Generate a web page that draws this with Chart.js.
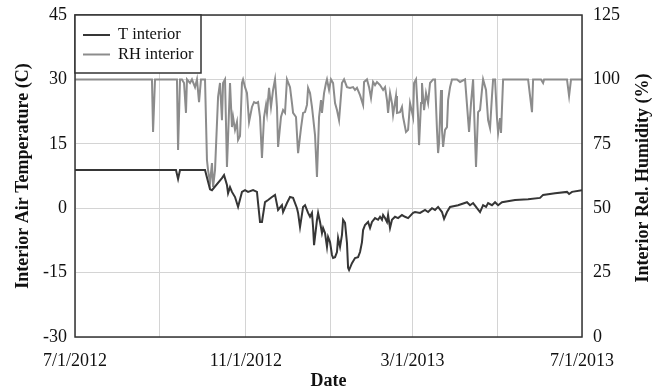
<!DOCTYPE html>
<html>
<head>
<meta charset="utf-8">
<script src="https://cdn.jsdelivr.net/npm/chart.js@4.4.1/dist/chart.umd.min.js"></script>
<style>
  html, body { margin: 0; padding: 0; background: #fff; }
  #wrap { width: 662px; height: 392px; position: relative; }
</style>
</head>
<body>
<div id="wrap"><canvas id="interiorChart"></canvas></div>
<script>
// days counted from 7/1/2012
const xTickDays = [0, 61, 123, 184, 243, 304, 365];
const xTickLabels = ['7/1/2012', '', '11/1/2012', '', '3/1/2013', '', '7/1/2013'];
const tempTicks = [-30, -15, 0, 15, 30, 45];
const rhTicks = [0, 25, 50, 75, 100, 125];

const tDays = [
    0, 72.7, 74.2, 75.6, 93.6, 97.2, 98.6, 105.8, 107.3, 109.4, 110.2, 111.6, 113, 115.2, 117.4,
    120.2, 122.4, 124.6, 128.2, 131, 131.8, 133.2, 134.6, 136.8, 139, 141.8, 144, 146.2, 149, 149.8,
    152.6, 154.8, 157, 159.8, 160.6, 162, 164.2, 165.6, 167.8, 169.2, 170.6, 171.4, 172.1, 174.2, 175,
    176.4, 177.8, 178.6, 180, 181.4, 182.2, 183.6, 185, 185.8, 187.2, 188.6, 189.4, 190.8, 192.2, 193,
    194.4, 195.8, 196.6, 197.3, 199.4, 201.6, 203.8, 205.2, 206.6, 207.4, 208.8, 211, 212.4, 213.8, 216,
    218.2, 219.6, 221, 221.8, 223.2, 224.6, 225.4, 226.8, 228.2, 230.4, 232.6, 235.4, 237.6, 239.8, 243.4,
    244.8, 248.4, 252, 254.2, 257, 259.2, 261.4, 264.2, 265.7, 267.8, 270, 275.8, 282.2, 284.4, 286.6,
    289.4, 291.6, 293.8, 295.9, 297.4, 300.2, 302.4, 304.6, 307.4, 316.8, 326.2, 334.8, 337, 345.6, 354.2,
    355.7, 357.8, 365
];
const tValues = [
    8.9, 8.9, 6.8, 8.9, 8.9, 4.4, 4.2, 7.0, 7.7, 5.4, 3.5, 4.9, 3.8, 2.6, 0.3,
    3.8, 4.2, 3.8, 4.2, 3.8, 1.2, -3.2, -3.2, 1.4, 1.9, 2.6, 3.1, -0.4, 0.7, -0.9,
    1.2, 2.6, 2.4, 0.0, -1.1, -4.4, 0.3, 0.7, -1.1, -2.0, -1.1, -4.4, -8.6, -2.7, -1.1,
    -3.2, -5.8, -4.6, -5.8, -9.0, -6.7, -7.9, -10.9, -11.6, -11.4, -10.2, -6.9, -9.0, -6.2, -2.7,
    -3.4, -8.1, -13.9, -14.4, -12.8, -11.6, -11.4, -10.2, -7.9, -5.1, -3.9, -3.2, -4.6, -3.2, -2.3,
    -2.7, -2.0, -2.7, -1.6, -2.3, -3.2, -1.6, -4.6, -2.7, -2.0, -2.3, -1.6, -2.0, -2.3, -1.1,
    -0.9, -1.1, -0.4, -0.9, 0.0, -0.4, 0.3, -0.9, -2.5, -0.9, 0.3, 0.7, 1.4, 0.7, 1.2,
    0.0, -0.9, 0.7, 0.3, 1.2, 0.7, 1.4, 0.7, 1.4, 1.9, 2.1, 2.4, 3.1, 3.5, 3.8,
    3.3, 3.8, 4.2
];

const rhDays = [
    0, 55.4, 56.2, 57.6, 73.4, 74.2, 75.6, 77, 78.5, 79.9, 80.6, 82.8, 84.2, 86.4, 87.8,
    89.3, 90.7, 93.6, 95, 95.8, 97.2, 98.6, 99.4, 100.8, 103, 104.4, 105.8, 106.6, 108, 109.4,
    110.2, 111.6, 113, 113.8, 115.2, 116.6, 117.4, 118.8, 120.2, 121, 122.4, 123.8, 125.3, 127.4, 128.9,
    130.3, 131.8, 133.2, 134.6, 136.1, 137.5, 138.2, 139.7, 141.1, 142.6, 144, 145.4, 146.2, 148.3, 149.8,
    151.2, 152.6, 154.8, 156.2, 157, 159.1, 160.6, 162.7, 164.2, 165.6, 167, 167.8, 169.2, 170.6, 171.4,
    172.8, 174.2, 175.7, 177.1, 177.8, 179.3, 180.7, 181.4, 182.9, 184.3, 185.8, 187.2, 188.6, 190.1, 192.2,
    193.7, 195.8, 198, 200.2, 201.6, 203, 205.2, 207.4, 208.1, 210.2, 211.7, 213.1, 214.6, 216, 217.4,
    219.6, 221.8, 223.2, 224.6, 225.4, 226.8, 228.2, 229, 231.1, 231.8, 234, 235.4, 236.2, 238.3, 239.8,
    241.2, 243.4, 244.1, 245.5, 247, 247.7, 249.1, 249.8, 251.3, 252.7, 254.2, 255.6, 257.8, 259.2, 260.6,
    261.4, 262.1, 263.5, 264.2, 265, 266.4, 267.8, 268.6, 270, 271.4, 275, 277.2, 280.8, 283.7, 285.1,
    286.6, 287.3, 288.7, 290.2, 291.6, 293, 293.8, 295.9, 297.4, 298.8, 300.2, 301, 302.4, 303.8, 304.6,
    306, 306.7, 308.2, 326.2, 327.6, 329, 329.8, 335.5, 337, 337.7, 354.2, 355.7, 357.1, 365
];
const rhValues = [
    100, 100, 79.6, 100, 100, 72.6, 100, 100, 98.6, 87, 100, 98.6, 100, 97, 100,
    91.2, 100, 100, 68.7, 64.8, 59.8, 67.5, 58.2, 64.8, 93.2, 98.6, 84.2, 98.6, 100, 66,
    77.6, 98.6, 81.5, 85.4, 80.4, 83.5, 76.5, 78, 98.6, 100, 97, 94.7, 83.5, 89.3, 91.2,
    90.8, 91.2, 85.4, 69.5, 85.4, 90.1, 87, 96.7, 89.3, 95.9, 100, 89.3, 73.8, 85.4, 88.1,
    87, 100, 97, 90.8, 87, 85.4, 71.4, 81.1, 87, 87.3, 90.1, 96.7, 94.7, 89.3, 85.4,
    78.4, 62.1, 85.4, 92, 87, 94.7, 98.6, 100, 95.9, 100, 98.6, 90.8, 88.1, 84.2, 98.6,
    100, 97, 96.7, 97, 95.9, 96.7, 93.9, 90.1, 99, 100, 97, 92.8, 99, 97.8, 99,
    97.8, 95.9, 97, 92, 87, 94.7, 90.8, 86.2, 93.6, 87, 87.3, 89.3, 85.4, 79.6, 80.4,
    90.8, 85.4, 98.6, 100, 85.4, 74.5, 90.8, 98.6, 88.1, 94.7, 90.8, 98.6, 100, 100, 80.4,
    71.4, 75.3, 95.9, 80.4, 73.8, 80.4, 81.5, 92, 97, 100, 100, 99, 100, 79.6, 90.8,
    100, 88.1, 66, 87.3, 88.1, 95.9, 100, 95.9, 84.2, 81.1, 93.6, 100, 100, 85, 79.2,
    85, 79.2, 100, 100, 93.6, 87.3, 100, 100, 98.6, 100, 100, 93.6, 100, 100
];

const serif = "'Liberation Serif', 'Times New Roman', serif";
const darkLine = '#363636';
const greyLine = '#8c8c8c';
const gridColor = '#d4d4d4';

function toPoints(xs, ys) {
    return xs.map((x, i) => ({ x: x, y: ys[i] }));
}

// fixed axis widths, and no extra label padding above/below the plot
function fixVertical(width) {
    return scale => {
        scale.width = width;
        scale.paddingTop = 0;
        scale.paddingBottom = 0;
    };
}

// frame round the plot, legend box, right-hand title reading upwards
const framePlugin = {
    id: 'framePlugin',
    afterDraw(chart) {
        const ctx = chart.ctx;
        const area = chart.chartArea;
        ctx.save();
        ctx.strokeStyle = '#333';
        ctx.lineWidth = 1.5;
        ctx.strokeRect(area.left, area.top, area.right - area.left, area.bottom - area.top);

        // legend
        const lx = area.left, ly = area.top, lw = 126, lh = 58;
        ctx.fillStyle = '#fff';
        ctx.fillRect(lx, ly, lw, lh);
        ctx.strokeRect(lx, ly, lw, lh);
        ctx.font = '16.5px ' + serif;
        ctx.textBaseline = 'middle';
        chart.data.datasets.forEach((ds, i) => {
            const y = ly + 20 + i * 19.5;
            ctx.strokeStyle = ds.borderColor;
            ctx.lineWidth = 2;
            ctx.beginPath();
            ctx.moveTo(lx + 8, y);
            ctx.lineTo(lx + 35, y);
            ctx.stroke();
            ctx.fillStyle = '#111';
            ctx.fillText(ds.label, lx + 43, y);
        });

        // right axis title
        ctx.translate(643, (area.top + area.bottom) / 2 + 2);
        ctx.rotate(-Math.PI / 2);
        ctx.font = 'bold 18px ' + serif;
        ctx.fillStyle = '#111';
        ctx.textAlign = 'center';
        ctx.textBaseline = 'middle';
        ctx.fillText('Interior Rel. Humidity (%)', 0, 0);
        ctx.restore();
    }
};

const ctx = document.getElementById('interiorChart').getContext('2d');
const interiorChart = new Chart(ctx, {
    type: 'line',
    data: {
        datasets: [
            {
                label: 'T interior',
                data: toPoints(tDays, tValues),
                borderColor: darkLine,
                borderWidth: 2,
                pointRadius: 0,
                tension: 0,
                yAxisID: 'y'
            },
            {
                label: 'RH interior',
                data: toPoints(rhDays, rhValues),
                borderColor: greyLine,
                borderWidth: 2,
                pointRadius: 0,
                tension: 0,
                yAxisID: 'y1'
            }
        ]
    },
    options: {
        responsive: true,
        maintainAspectRatio: false,
        animation: false,
        layout: { padding: { top: 15, left: 0, right: 0, bottom: 0 } },
        plugins: {
            legend: { display: false },
            tooltip: { enabled: false }
        },
        scales: {
            x: {
                type: 'linear',
                min: 0,
                max: 365,
                afterBuildTicks: scale => {
                    scale.ticks = xTickDays.map(v => ({ value: v }));
                },
                afterFit: scale => { scale.height = 55; },
                ticks: {
                    autoSkip: false,
                    maxRotation: 0,
                    padding: 13,
                    color: '#111',
                    font: { family: serif, size: 18 },
                    callback: (value, index) => xTickLabels[index]
                },
                grid: { color: gridColor, drawTicks: false },
                border: { display: false },
                title: {
                    display: true,
                    text: 'Date',
                    color: '#111',
                    font: { family: serif, size: 18, weight: 'bold' },
                    padding: { top: 0, bottom: 0 }
                }
            },
            y: {
                position: 'left',
                min: -30,
                max: 45,
                afterBuildTicks: scale => {
                    scale.ticks = tempTicks.map(v => ({ value: v }));
                },
                afterFit: fixVertical(75),
                ticks: {
                    padding: 8,
                    color: '#111',
                    font: { family: serif, size: 18 }
                },
                grid: { color: gridColor, drawTicks: false },
                border: { display: false },
                title: {
                    display: true,
                    text: 'Interior Air Temperature (C)',
                    color: '#111',
                    font: { family: serif, size: 18, weight: 'bold' },
                    padding: { top: 13, bottom: 0 }
                }
            },
            y1: {
                position: 'right',
                min: 0,
                max: 125,
                afterBuildTicks: scale => {
                    scale.ticks = rhTicks.map(v => ({ value: v }));
                },
                afterFit: fixVertical(80),
                ticks: {
                    padding: 11,
                    color: '#111',
                    font: { family: serif, size: 18 }
                },
                grid: { drawOnChartArea: false, drawTicks: false },
                border: { display: false }
            }
        }
    },
    plugins: [framePlugin]
});
</script>
</body>
</html>
